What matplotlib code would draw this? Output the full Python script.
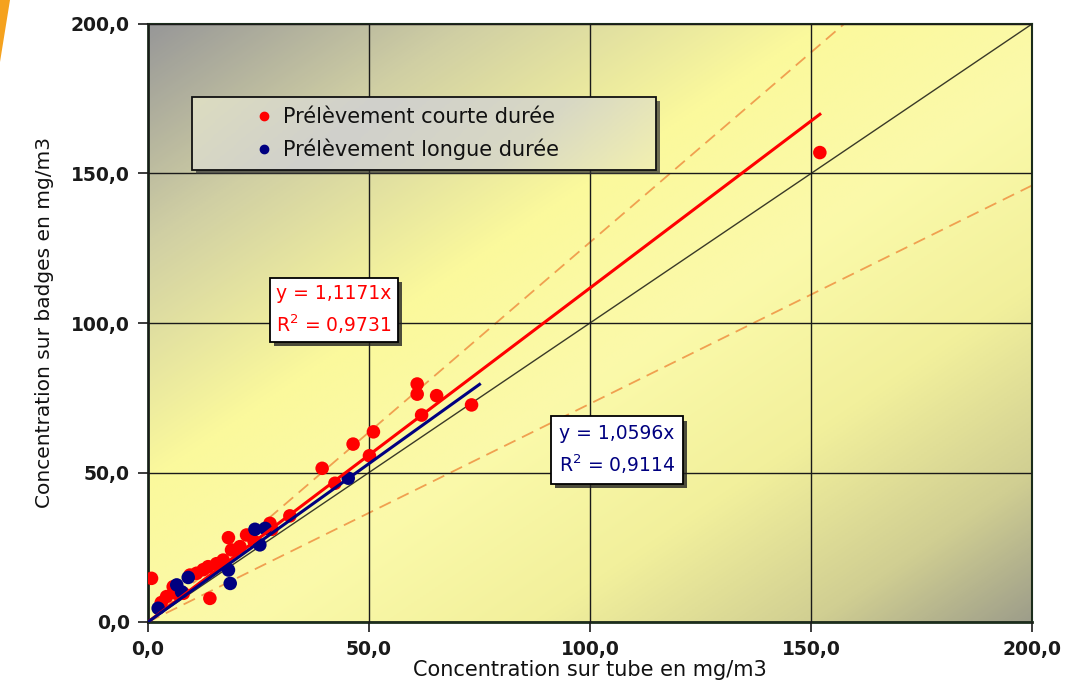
import numpy as np
import matplotlib
matplotlib.use("Agg")
import matplotlib.pyplot as plt
from matplotlib.lines import Line2D
from matplotlib.patches import Rectangle, Polygon
import matplotlib.patheffects as pe
from matplotlib.colors import LinearSegmentedColormap

# ---- data ----
red_x = [0.8, 3.0, 4.2, 5.7, 6.5, 8.0, 9.5, 11.0, 12.5, 13.6, 14.0, 15.5, 17.0,
         18.2, 18.9, 20.8, 22.3, 24.0, 27.6, 28.0, 32.1, 39.4, 42.3, 46.4, 50.1,
         51.0, 60.9, 60.9, 61.9, 65.3, 73.2, 152.0]
red_y = [14.6, 6.5, 8.5, 11.8, 9.5, 9.6, 15.7, 16.3, 17.5, 18.5, 7.9, 19.5, 20.7,
         28.2, 24.1, 25.2, 29.1, 27.0, 33.0, 31.0, 35.5, 51.4, 46.4, 59.5, 55.6,
         63.6, 79.6, 76.2, 69.2, 75.7, 72.6, 157.0]
blue_x = [2.3, 6.5, 7.6, 9.1, 18.2, 18.6, 24.2, 25.3, 26.5, 45.3]
blue_y = [4.6, 12.4, 10.1, 14.9, 17.4, 12.9, 31.0, 25.8, 31.3, 48.1]

red_slope, red_r2, red_xmax = 1.1171, 0.9731, 152.0
blue_slope, blue_r2, blue_xmax = 1.0596, 0.9114, 75.0
upper_slope, lower_slope = 1.27, 0.73

series_labels = ["Prélèvement courte durée", "Prélèvement longue durée"]
tick_vals = [0, 50, 100, 150, 200]
tick_labels = ["0,0", "50,0", "100,0", "150,0", "200,0"]
xlabel = "Concentration sur tube en mg/m3"
ylabel = "Concentration sur badges en mg/m3"

RED = "#ff0000"
NAVY = "#000080"
ORANGE = "#f0a050"

fig = plt.figure(figsize=(10.68, 6.99), dpi=100)
fig.patch.set_facecolor("white")
ax = fig.add_axes([148/1068, 1-622/699, (1032-148)/1068, (622-24)/699])

# background gradient
n = 300
u = np.linspace(0, 1, n)
U, V = np.meshgrid(u, u)  # V: 0 at top row (origin upper)
t = (U + V) / 2
cmap = LinearSegmentedColormap.from_list(
    "bg", [(0.0, "#989898"), (0.18, "#d0cfa4"), (0.38, "#fbf99c"),
           (0.55, "#fbfaaa"), (0.72, "#f2f09c"), (0.88, "#d0ce92"), (1.0, "#9e9e8a")])
ax.imshow(t, cmap=cmap, extent=[0, 200, 0, 200], origin="upper",
          aspect="auto", zorder=0, interpolation="bilinear")

ax.set_xlim(0, 200)
ax.set_ylim(0, 200)
ax.set_xticks(tick_vals)
ax.set_yticks(tick_vals)
ax.set_xticklabels(tick_labels)
ax.set_yticklabels(tick_labels)
ax.grid(True, color="#1a1a1a", lw=1.0, zorder=1)
ax.set_axisbelow(False)
for side in ["left", "bottom", "right", "top"]:
    ax.spines[side].set_color("#1c2e1c")
    ax.spines[side].set_linewidth(2.0 if side in ("left", "bottom") else 1.5)
ax.tick_params(direction="out", length=7, width=1.2, color="#1a1a1a",
               labelsize=13.5, pad=6)
for lab in ax.get_xticklabels() + ax.get_yticklabels():
    lab.set_fontweight("bold")
    lab.set_color("#1a1a1a")

xs = np.array([0, 200])
ax.plot(xs, xs, color="#3a3a28", lw=1.0, zorder=2)
ax.plot(xs, upper_slope * xs, color=ORANGE, lw=1.3, ls=(0, (7, 4)), zorder=2)
ax.plot(xs, lower_slope * xs, color=ORANGE, lw=1.3, ls=(0, (7, 4)), zorder=2)

ax.scatter(red_x, red_y, s=95, color=RED, edgecolors="none", zorder=3)
ax.scatter(blue_x, blue_y, s=95, color=NAVY, edgecolors="none", zorder=4)

rx = np.array([0, red_xmax])
bx = np.array([0, blue_xmax])
ax.plot(rx, red_slope * rx, color=RED, lw=2.2, zorder=5)
ax.plot(bx, blue_slope * bx, color=NAVY, lw=2.2, zorder=5)

# annotation boxes
shadow = [pe.SimplePatchShadow(offset=(3, -3), shadow_rgbFace="#222222", alpha=0.8), pe.Normal()]
def fmt(v, nd=4):
    return f"{v:.{nd}f}".replace(".", ",")
t1 = ax.text(42.1, 104.3, f"y = {fmt(red_slope)}x\nR$^2$ = {fmt(red_r2)}",
             color=RED, fontsize=13.5, ha="center", va="center", linespacing=1.5,
             bbox=dict(boxstyle="square,pad=0.32", fc="white", ec="black", lw=1.3),
             zorder=6)
t1.get_bbox_patch().set_path_effects(shadow)
t2 = ax.text(106.1, 57.5, f"y = {fmt(blue_slope)}x\nR$^2$ = {fmt(blue_r2)}",
             color=NAVY, fontsize=13.5, ha="center", va="center", linespacing=1.5,
             bbox=dict(boxstyle="square,pad=0.4", fc="white", ec="black", lw=1.3),
             zorder=6)
t2.get_bbox_patch().set_path_effects(shadow)

# legend box with gradient
lx0, lx1, ly0, ly1 = 10.0, 114.9, 151.2, 175.6
gx = np.linspace(0, 1, 200)[None, :].repeat(20, axis=0)
gy = np.linspace(0, 1, 20)[:, None].repeat(200, axis=1)
lcmap = LinearSegmentedColormap.from_list(
    "lg", [(0, "#dcdcc0"), (0.35, "#d0d0cc"), (0.7, "#d8d8c4"), (1, "#f2f0b0")])
ax.imshow(np.clip(gx * 0.85 + gy * 0.15, 0, 1), cmap=lcmap,
          extent=[lx0, lx1, ly0, ly1], origin="upper", aspect="auto", zorder=7)
sh = Rectangle((lx0 + 0.9, ly0 - 1.3), lx1 - lx0, ly1 - ly0, fc="#333333",
               ec="none", alpha=0.7, zorder=6.5)
ax.add_patch(sh)
ax.add_patch(Rectangle((lx0, ly0), lx1 - lx0, ly1 - ly0, fc="none",
                       ec="#111111", lw=1.3, zorder=8))
ax.set_xlim(0, 200)
ax.set_ylim(0, 200)

handles = [Line2D([], [], ls="none", marker="o", ms=6, color=RED),
           Line2D([], [], ls="none", marker="o", ms=6, color=NAVY)]
leg = ax.legend(handles, series_labels, loc="center left",
                bbox_to_anchor=(21.5, 163.4), bbox_transform=ax.transData,
                frameon=False, fontsize=15, handlelength=1.0, handletextpad=0.4,
                labelspacing=0.55, borderpad=0)
leg.set_zorder(9)
for txt in leg.get_texts():
    txt.set_color("#111111")

ax.set_xlabel(xlabel, fontsize=15, color="#111111", labelpad=1)
ax.set_ylabel(ylabel, fontsize=14.5, color="#111111", labelpad=12,
              family=["Liberation Sans Narrow", "DejaVu Sans"])

# decorative orange corner
fig.patches.append(Polygon([(0, 1), (10/1068, 1), (0, 1 - 62/699)], closed=True,
                           transform=fig.transFigure, fc="#f5a21e", ec="none"))

fig.savefig("out.png", dpi=100)
